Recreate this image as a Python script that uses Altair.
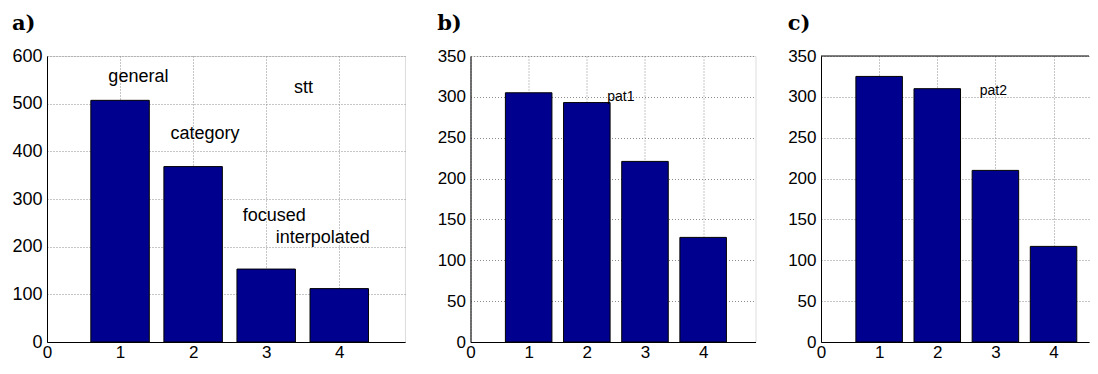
import altair as alt
import pandas as pd

# ---- data ----
positions = [1, 2, 3, 4]
a_values = [507, 368, 153, 112]
b_values = [305, 293, 221, 128]
c_values = [325, 310, 210, 117]

a_labels = ["general", "category", "stt", "focused", "interpolated"]
a_label_x = [0.84, 1.69, 3.38, 2.68, 3.13]
a_label_y = [556, 437, 533, 264, 219]

b_labels = ["pat1"]
b_label_x = [2.35]
b_label_y = [300]

c_labels = ["pat2"]
c_label_x = [2.73]
c_label_y = [307]

x_ticks = [0, 1, 2, 3, 4]
a_y_ticks = [0, 100, 200, 300, 400, 500, 600]
bc_y_ticks = [0, 50, 100, 150, 200, 250, 300, 350]

NAVY = "#00008F"
SANS = "Liberation Sans"
PLOT_H = 286


def panel(values, ymax, yticks, labels, lx, ly, width, xmax, tick_size,
          text_size, title, open_right=False):
    bars_df = pd.DataFrame({"pos": positions, "value": values})
    text_df = pd.DataFrame({"label": labels, "x": lx, "y": ly})
    xscale = alt.Scale(domain=[0, xmax], nice=False, zero=False)
    yscale = alt.Scale(domain=[0, ymax], nice=False)
    xaxis = alt.Axis(values=x_ticks, title=None, grid=True, gridDash=[1, 2],
                     gridColor="#8c8c8c", ticks=False, labelPadding=2,
                     labelFont=SANS, labelFontSize=17, labelColor="black",
                     domainColor="black", labelFlush=False, format="d")
    yaxis = alt.Axis(values=yticks, title=None, grid=True, gridDash=[1, 2],
                     gridColor="#8c8c8c", ticks=False, labelPadding=5,
                     labelFont=SANS, labelFontSize=tick_size, labelColor="black",
                     domainColor="black", labelFlush=False, format="d")
    bars = alt.Chart(bars_df).transform_calculate(
        x0="datum.pos - 0.4", x1="datum.pos + 0.4"
    ).mark_rect(color=NAVY, stroke="black", strokeWidth=1).encode(
        x=alt.X("x0:Q", scale=xscale, axis=xaxis),
        x2="x1:Q",
        y=alt.Y("value:Q", scale=yscale, axis=yaxis),
        y2=alt.datum(0),
    )
    texts = alt.Chart(text_df).mark_text(
        align="left", baseline="middle", font=SANS, fontSize=text_size,
        color="black"
    ).encode(
        x=alt.X("x:Q", scale=xscale),
        y=alt.Y("y:Q", scale=yscale),
        text="label:N",
    )
    layers = [bars, texts]
    props = dict(
        width=width, height=PLOT_H,
        title=alt.TitleParams(title, anchor="start", frame="bounds",
                              font="DejaVu Serif", fontWeight="bold",
                              fontSize=21, color="black", offset=13),
    )
    if open_right:
        top_df = pd.DataFrame({"top": [ymax]})
        top_line = alt.Chart(top_df).mark_rule(color="black", strokeWidth=1).encode(
            y=alt.Y("top:Q", scale=yscale)
        )
        layers.append(top_line)
        props["view"] = alt.ViewBackground(stroke="transparent")
    return alt.layer(*layers).properties(**props)


a = panel(a_values, 600, a_y_ticks, a_labels, a_label_x, a_label_y, 358, 4.9,
          18, 18, "a)")
b = panel(b_values, 350, bc_y_ticks, b_labels, b_label_x, b_label_y, 285, 4.9,
          17, 14, "b)")
c = panel(c_values, 350, bc_y_ticks, c_labels, c_label_x, c_label_y, 268, 4.61,
          17, 14, "c)", open_right=True)

chart = alt.HConcatChart(hconcat=[a, b, c], spacing=65.5, bounds="flush").properties(
    padding={"left": 3, "top": 4, "right": 0, "bottom": 0}
).configure_view(stroke="black", strokeWidth=1).configure(background="white")

chart.save("out.html", embed_options={"renderer": "svg", "actions": False})
